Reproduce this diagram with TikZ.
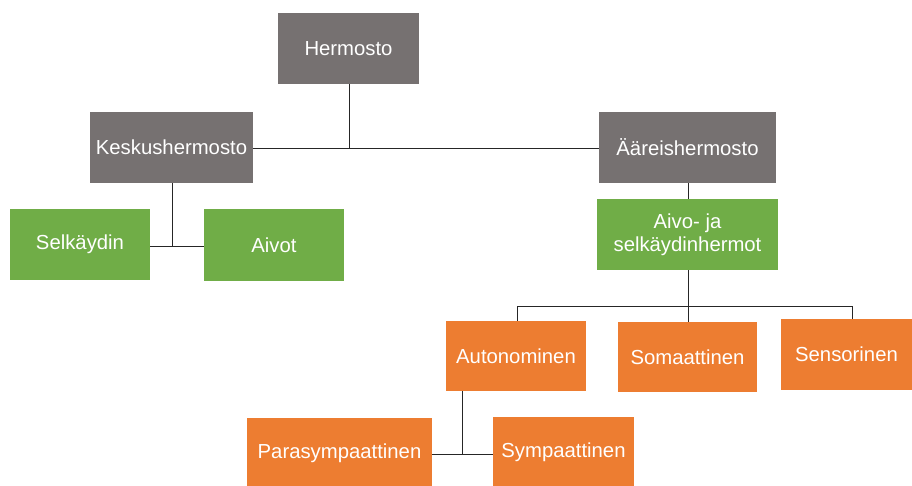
\documentclass[tikz,border=0pt]{standalone}
\usepackage{fontspec}
\setmainfont{Liberation Sans}
\definecolor{cgray}{HTML}{767171}
\definecolor{cgreen}{HTML}{70AD47}
\definecolor{corange}{HTML}{ED7D31}
\begin{document}
\begin{tikzpicture}[x=1pt,y=-1pt,
  box/.style={rectangle, inner sep=0pt, text=white, align=center,
    font=\fontsize{20.3}{23}\selectfont},
  gbox/.style={box, fill=cgray},
  grbox/.style={box, fill=cgreen},
  obox/.style={box, fill=corange},
  conn/.style={draw=black!85, line width=0.9pt}]
\useasboundingbox (0,0) rectangle (912,486);
\node[gbox, minimum width=141pt, minimum height=71pt] (h) at (348.5,48.5) {Hermosto};
\node[gbox, minimum width=163pt, minimum height=71pt] (k) at (171.5,147.5) {Keskushermosto};
\node[gbox, minimum width=177pt, minimum height=71pt] (a) at (687.5,147.5) {Ääreishermosto};
\node[grbox, minimum width=140pt, minimum height=71pt] (s) at (80,244.5) {Selkäydin};
\node[grbox, minimum width=140pt, minimum height=72pt] (av) at (274,245) {Aivot};
\node[grbox, minimum width=181pt, minimum height=71pt] (ash) at (687.5,234.5) {Aivo- ja\\selkäydinhermot};
\node[obox, minimum width=140pt, minimum height=70pt] (au) at (516,356) {Autonominen};
\node[obox, minimum width=139pt, minimum height=70pt] (so) at (687.5,357) {Somaattinen};
\node[obox, minimum width=131pt, minimum height=71pt] (se) at (846.5,354.5) {Sensorinen};
\node[obox, minimum width=185pt, minimum height=70pt] (pa) at (339.5,453) {Parasympaattinen};
\node[obox, minimum width=141pt, minimum height=70pt] (sy) at (563.5,452) {Sympaattinen};
% connectors
\coordinate (hk) at (349,148);
\draw[conn] (h.south -| hk) -- (hk);
\draw[conn] (k.east |- hk) -- (a.west |- hk);
\coordinate (ks) at (172,246);
\draw[conn] (k.south -| ks) -- (ks);
\draw[conn] (s.east |- ks) -- (av.west |- ks);
\coordinate (bus) at (688,306);
\draw[conn] (a.south -| bus) -- (ash.north -| bus);
\coordinate (busl) at (517,306);
\coordinate (busr) at (852,306);
\draw[conn] (ash.south -| bus) -- (bus);
\draw[conn] (busl) -- (busr);
\draw[conn] (busl) -- (au.north -| busl);
\draw[conn] (bus) -- (so.north -| bus);
\draw[conn] (busr) -- (se.north -| busr);
\coordinate (ap) at (462,454);
\draw[conn] (au.south -| ap) -- (ap);
\draw[conn] (pa.east |- ap) -- (sy.west |- ap);
\end{tikzpicture}
\end{document}
